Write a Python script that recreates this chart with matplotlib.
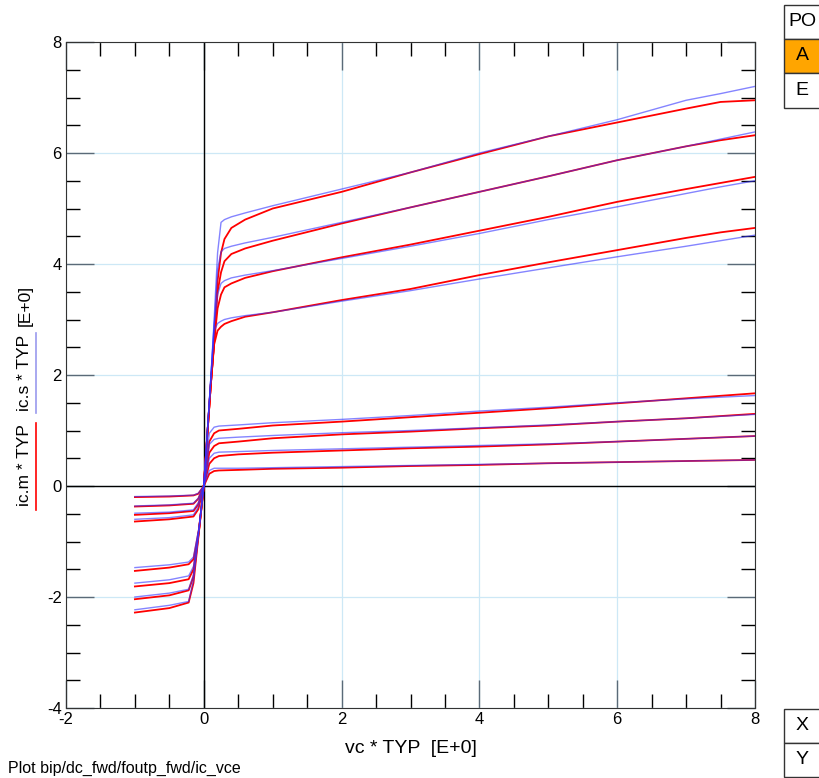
import matplotlib
matplotlib.use('Agg')
import matplotlib.pyplot as plt
from matplotlib.patches import Rectangle
from matplotlib.ticker import MultipleLocator

plt.rcParams['font.family'] = ['Liberation Sans', 'DejaVu Sans']
plt.rcParams['axes.unicode_minus'] = False

# forward, high base current group
vc_up = [0, 0.1, 0.15, 0.2, 0.25, 0.3, 0.4, 0.6, 1, 2, 3, 4, 5, 6, 7, 7.5, 8]
up_red = [
    [0, 1.8, 2.6, 3.7, 4.2, 4.45, 4.65, 4.8, 5.0, 5.3, 5.65, 5.98, 6.3, 6.55, 6.8, 6.92, 6.95],
    [0, 1.8, 2.6, 3.5, 3.85, 4.05, 4.18, 4.28, 4.42, 4.73, 5.02, 5.3, 5.58, 5.87, 6.12, 6.23, 6.32],
    [0, 1.8, 2.6, 3.2, 3.45, 3.58, 3.65, 3.75, 3.87, 4.12, 4.35, 4.6, 4.85, 5.12, 5.35, 5.46, 5.57],
    [0, 1.8, 2.55, 2.8, 2.87, 2.92, 2.97, 3.05, 3.13, 3.35, 3.55, 3.8, 4.03, 4.25, 4.47, 4.57, 4.65],
]
up_blue = [
    [0, 1.9, 3.0, 4.2, 4.75, 4.8, 4.85, 4.92, 5.05, 5.35, 5.65, 6.0, 6.3, 6.6, 6.95, 7.07, 7.2],
    [0, 1.9, 2.9, 3.9, 4.22, 4.28, 4.32, 4.38, 4.48, 4.75, 5.02, 5.3, 5.58, 5.87, 6.12, 6.25, 6.38],
    [0, 1.9, 2.9, 3.45, 3.65, 3.7, 3.75, 3.8, 3.88, 4.1, 4.32, 4.55, 4.8, 5.03, 5.27, 5.39, 5.5],
    [0, 1.9, 2.8, 2.93, 2.97, 3.0, 3.03, 3.07, 3.13, 3.33, 3.52, 3.73, 3.93, 4.13, 4.32, 4.42, 4.52],
]

# forward, low base current group
vc_lo = [0, 0.08, 0.15, 0.22, 0.5, 1, 2, 3, 4, 5, 6, 7, 8]
lo_red = [
    [0, 0.8, 0.95, 1.0, 1.03, 1.09, 1.16, 1.24, 1.32, 1.4, 1.49, 1.58, 1.67],
    [0, 0.6, 0.72, 0.77, 0.8, 0.86, 0.93, 0.98, 1.04, 1.09, 1.16, 1.22, 1.3],
    [0, 0.4, 0.5, 0.54, 0.57, 0.6, 0.64, 0.68, 0.71, 0.75, 0.8, 0.85, 0.9],
    [0, 0.22, 0.27, 0.28, 0.29, 0.31, 0.33, 0.36, 0.38, 0.41, 0.43, 0.45, 0.47],
]
lo_blue = [
    [0, 0.95, 1.06, 1.08, 1.1, 1.14, 1.2, 1.27, 1.35, 1.42, 1.5, 1.57, 1.63],
    [0, 0.75, 0.84, 0.86, 0.88, 0.91, 0.96, 1.0, 1.05, 1.1, 1.16, 1.22, 1.29],
    [0, 0.5, 0.59, 0.61, 0.62, 0.64, 0.67, 0.7, 0.73, 0.76, 0.8, 0.85, 0.9],
    [0, 0.28, 0.32, 0.32, 0.32, 0.33, 0.35, 0.37, 0.39, 0.41, 0.43, 0.45, 0.47],
]

# reverse, small group
vc_nu = [-1, -0.5, -0.15, -0.08, 0]
nu_red = [
    [-0.2, -0.19, -0.17, -0.14, 0],
    [-0.37, -0.35, -0.32, -0.23, 0],
    [-0.52, -0.49, -0.45, -0.33, 0],
    [-0.64, -0.6, -0.55, -0.42, 0],
]
nu_blue = [
    [-0.19, -0.18, -0.165, -0.13, 0],
    [-0.36, -0.34, -0.31, -0.22, 0],
    [-0.49, -0.47, -0.43, -0.3, 0],
    [-0.6, -0.57, -0.52, -0.38, 0],
]

# reverse, large group
vc_nl = [-1, -0.5, -0.22, -0.15, -0.07, 0]
nl_red = [
    [-1.53, -1.47, -1.41, -1.32, -0.78, 0],
    [-1.81, -1.75, -1.68, -1.5, -0.8, 0],
    [-2.04, -1.97, -1.88, -1.63, -0.8, 0],
    [-2.28, -2.2, -2.1, -1.75, -0.82, 0],
]
nl_blue = [
    [-1.47, -1.42, -1.37, -1.28, -0.75, 0],
    [-1.75, -1.69, -1.62, -1.45, -0.77, 0],
    [-2.0, -1.93, -1.86, -1.6, -0.78, 0],
    [-2.23, -2.15, -2.08, -1.7, -0.8, 0],
]

fig = plt.figure(figsize=(8.19, 7.78), dpi=100)
ax = fig.add_axes([66/819, 1-708/778, (755-66)/819, (708-42)/778])

groups = [(vc_up, up_red, up_blue), (vc_lo, lo_red, lo_blue),
          (vc_nu, nu_red, nu_blue), (vc_nl, nl_red, nl_blue)]
for vc, reds, blues in groups:
    for r in reds:
        ax.plot(vc, r, color='#ff0000', lw=1.3, zorder=3)
    for b in blues:
        ax.plot(vc, b, color='#3333ff', lw=1.0, alpha=0.6, zorder=4)

ax.set_xlim(-2, 8)
ax.set_ylim(-4, 8)
ax.xaxis.set_major_locator(MultipleLocator(2))
ax.yaxis.set_major_locator(MultipleLocator(2))
ax.xaxis.set_minor_locator(MultipleLocator(0.5))
ax.yaxis.set_minor_locator(MultipleLocator(0.5))
ax.grid(True, which='major', color='#cde8f6', lw=0.9, zorder=0)
ax.axhline(0, color='black', lw=1, zorder=2)
ax.axvline(0, color='black', lw=1, zorder=2)
ax.tick_params(which='major', direction='in', length=20, width=1, color='#5a6a78',
               top=True, right=True, labelsize=12, pad=3)
ax.tick_params(which='minor', direction='in', length=10, width=1, color='black',
               top=True, right=True)
ax.tick_params(axis='y', which='major', pad=3)
for s in ax.spines.values():
    s.set_color('#333333')

ax.set_xlabel('vc * TYP  [E+0]', fontsize=14, labelpad=9)

# y label with colored underlines
fig.text(25/819, 1-465/778, 'ic.m * TYP', rotation=90, fontsize=12.5, ha='center', va='center')
fig.text(25/819, 1-373/778, 'ic.s * TYP', rotation=90, fontsize=12.5, ha='center', va='center')
fig.text(25/819, 1-305/778, '[E+0]', rotation=90, fontsize=12.5, ha='center', va='center')
fig.add_artist(plt.Line2D([36/819, 36/819], [1-510/778, 1-423/778], color='red', lw=1.2))
fig.add_artist(plt.Line2D([36/819, 36/819], [1-413/778, 1-333/778], color='#9999ee', lw=1.2))

fig.text(8/819, 1-768/778, 'Plot bip/dc_fwd/foutp_fwd/ic_vce', fontsize=11.5, ha='left', va='center')

# side boxes
boxes = [(5, 39, 'PO', 'white'), (39, 73, 'A', '#ffa500'), (73, 108, 'E', 'white'),
         (709, 743, 'X', 'white'), (743, 777, 'Y', 'white')]
for y0, y1, lab, fc in boxes:
    fig.add_artist(Rectangle((784/819, 1-y1/778), 40/819, (y1-y0)/778, facecolor=fc,
                             edgecolor='#333333', lw=1, transform=fig.transFigure))
    fig.text(802/819, 1-(y0+y1)/2/778, lab, fontsize=14, ha='center', va='center')

fig.savefig('out.png', dpi=100)
